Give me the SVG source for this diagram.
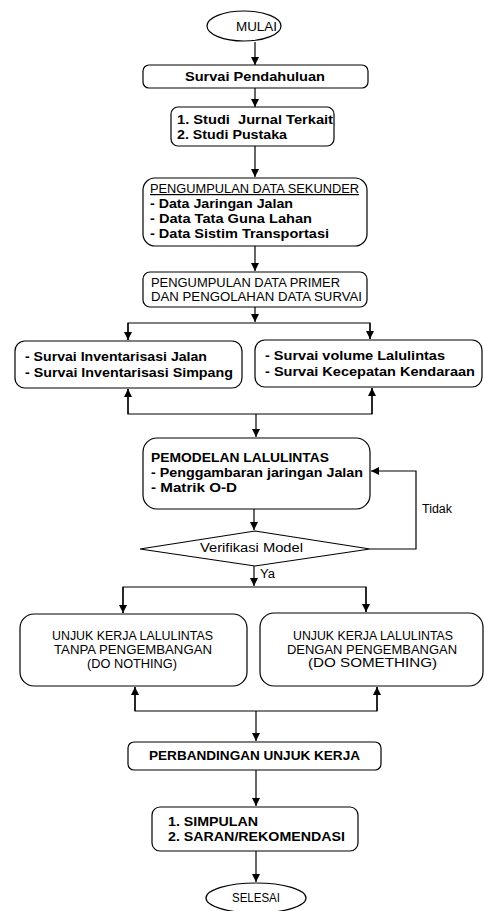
<svg xmlns="http://www.w3.org/2000/svg" width="484" height="911" viewBox="0 0 484 911">
<style>
.node{fill:#fff;stroke:#000;stroke-width:1.2}
.t{font-family:"Liberation Sans",Arial,sans-serif;font-size:12px;fill:#000}
.b{font-weight:bold;font-size:12.5px}
.c{fill:none;stroke:#000;stroke-width:1.2}
</style>
<defs>
<marker id="ah" markerUnits="userSpaceOnUse" markerWidth="9" markerHeight="9" refX="8" refY="4" orient="auto">
<path d="M0,0 L8,4 L0,8 z" fill="#000"/>
</marker>
</defs>
<rect width="484" height="911" fill="#fff"/>
<g id="connectors">
<line class="c" x1="255" y1="42" x2="255" y2="65" marker-end="url(#ah)"/>
<line class="c" x1="255" y1="88" x2="255" y2="107" marker-end="url(#ah)"/>
<line class="c" x1="255" y1="146" x2="255" y2="177" marker-end="url(#ah)"/>
<line class="c" x1="255" y1="246" x2="255" y2="271" marker-end="url(#ah)"/>
<line class="c" x1="255" y1="307" x2="255" y2="322" marker-end="url(#ah)"/>
<polyline class="c" points="128,340 128,323 370,323 370,339"/>
<line class="c" x1="128" y1="323" x2="128" y2="340" marker-end="url(#ah)"/>
<line class="c" x1="370" y1="323" x2="370" y2="339" marker-end="url(#ah)"/>
<polyline class="c" points="128,389 128,414 372,414 372,388"/>
<line class="c" x1="128" y1="414" x2="128" y2="389" marker-end="url(#ah)"/>
<line class="c" x1="372" y1="414" x2="372" y2="388" marker-end="url(#ah)"/>
<line class="c" x1="256" y1="414" x2="256" y2="437" marker-end="url(#ah)"/>
<line class="c" x1="254" y1="509" x2="254" y2="530" marker-end="url(#ah)"/>
<polyline class="c" points="370,549 416,549 416,471 371,471" marker-end="url(#ah)"/>
<line class="c" x1="254" y1="566" x2="254" y2="586" marker-end="url(#ah)"/>
<polyline class="c" points="123,613 123,587 366,587 366,612"/>
<line class="c" x1="123" y1="587" x2="123" y2="613" marker-end="url(#ah)"/>
<line class="c" x1="366" y1="587" x2="366" y2="612" marker-end="url(#ah)"/>
<polyline class="c" points="135,687 135,711 377,711 377,687"/>
<line class="c" x1="135" y1="711" x2="135" y2="687" marker-end="url(#ah)"/>
<line class="c" x1="377" y1="711" x2="377" y2="687" marker-end="url(#ah)"/>
<line class="c" x1="256" y1="711" x2="256" y2="741" marker-end="url(#ah)"/>
<line class="c" x1="256" y1="770" x2="256" y2="806" marker-end="url(#ah)"/>
<line class="c" x1="256" y1="851" x2="256" y2="882" marker-end="url(#ah)"/>
<text class="t" x="422" y="513" textLength="30" lengthAdjust="spacingAndGlyphs">Tidak</text>
<text class="t" x="260" y="578" textLength="15" lengthAdjust="spacingAndGlyphs">Ya</text>
</g>
<g id="mulai">
<ellipse class="node" cx="244" cy="26" rx="37" ry="15"/>
<text class="t" x="236" y="31" textLength="41" lengthAdjust="spacingAndGlyphs">MULAI</text>
</g>
<g id="survai-pendahuluan">
<rect class="node" x="143" y="65" width="225" height="23" rx="6"/>
<text class="t b" x="185" y="81" textLength="140" lengthAdjust="spacingAndGlyphs">Survai Pendahuluan</text>
</g>
<g id="studi">
<rect class="node" x="171" y="107" width="163" height="39" rx="7"/>
<text class="t b" x="177" y="124" textLength="156" lengthAdjust="spacingAndGlyphs" xml:space="preserve">1. Studi  Jurnal Terkait</text>
<text class="t b" x="177" y="139" textLength="110" lengthAdjust="spacingAndGlyphs">2. Studi Pustaka</text>
</g>
<g id="data-sekunder">
<rect class="node" x="143" y="178" width="224" height="68" rx="12"/>
<text class="t" x="150" y="193" textLength="209" lengthAdjust="spacingAndGlyphs" text-decoration="underline">PENGUMPULAN DATA SEKUNDER</text>
<text class="t b" x="150" y="208" textLength="143" lengthAdjust="spacingAndGlyphs">- Data Jaringan Jalan</text>
<text class="t b" x="150" y="223" textLength="162" lengthAdjust="spacingAndGlyphs">- Data Tata Guna Lahan</text>
<text class="t b" x="150" y="238" textLength="179" lengthAdjust="spacingAndGlyphs">- Data Sistim Transportasi</text>
</g>
<g id="data-primer">
<rect class="node" x="143" y="272" width="224" height="35" rx="7"/>
<text class="t" x="151" y="287" textLength="189" lengthAdjust="spacingAndGlyphs">PENGUMPULAN DATA PRIMER</text>
<text class="t" x="151" y="301" textLength="211" lengthAdjust="spacingAndGlyphs">DAN PENGOLAHAN DATA SURVAI</text>
</g>
<g id="survai-inventarisasi">
<rect class="node" x="15" y="341" width="227" height="47" rx="10"/>
<text class="t b" x="25" y="361" textLength="182" lengthAdjust="spacingAndGlyphs">- Survai Inventarisasi Jalan</text>
<text class="t b" x="25" y="377" textLength="208" lengthAdjust="spacingAndGlyphs">- Survai Inventarisasi Simpang</text>
</g>
<g id="survai-volume">
<rect class="node" x="255" y="340" width="227" height="47" rx="10"/>
<text class="t b" x="265" y="360" textLength="180" lengthAdjust="spacingAndGlyphs">- Survai volume Lalulintas</text>
<text class="t b" x="265" y="376" textLength="210" lengthAdjust="spacingAndGlyphs">- Survai Kecepatan Kendaraan</text>
</g>
<g id="pemodelan">
<rect class="node" x="143" y="438" width="227" height="71" rx="14"/>
<text class="t b" x="151" y="462" textLength="178" lengthAdjust="spacingAndGlyphs">PEMODELAN LALULINTAS</text>
<text class="t b" x="151" y="477" textLength="212" lengthAdjust="spacingAndGlyphs">- Penggambaran jaringan Jalan</text>
<text class="t b" x="151" y="492" textLength="86" lengthAdjust="spacingAndGlyphs">- Matrik O-D</text>
</g>
<g id="verifikasi">
<polygon class="node" points="255,531 370,549 255,566 140,549"/>
<text class="t" x="200" y="552" textLength="103" lengthAdjust="spacingAndGlyphs">Verifikasi Model</text>
</g>
<g id="do-nothing">
<rect class="node" x="20" y="614" width="227" height="72" rx="14"/>
<text class="t" x="52" y="640" textLength="161" lengthAdjust="spacingAndGlyphs">UNJUK KERJA LALULINTAS</text>
<text class="t" x="54" y="654" textLength="158" lengthAdjust="spacingAndGlyphs">TANPA PENGEMBANGAN</text>
<text class="t" x="87" y="668" textLength="90" lengthAdjust="spacingAndGlyphs">(DO NOTHING)</text>
</g>
<g id="do-something">
<rect class="node" x="260" y="613" width="223" height="73" rx="14"/>
<text class="t" x="293" y="640" textLength="160" lengthAdjust="spacingAndGlyphs">UNJUK KERJA LALULINTAS</text>
<text class="t" x="287" y="654" textLength="170" lengthAdjust="spacingAndGlyphs">DENGAN PENGEMBANGAN</text>
<text class="t" x="308" y="667" textLength="129" lengthAdjust="spacingAndGlyphs">(DO SOMETHING)</text>
</g>
<g id="perbandingan">
<rect class="node" x="128" y="742" width="253" height="28" rx="6"/>
<text class="t b" x="149" y="760" textLength="211" lengthAdjust="spacingAndGlyphs">PERBANDINGAN UNJUK KERJA</text>
</g>
<g id="simpulan">
<rect class="node" x="152" y="807" width="206" height="44" rx="8"/>
<text class="t b" x="168" y="826" textLength="90" lengthAdjust="spacingAndGlyphs">1. SIMPULAN</text>
<text class="t b" x="168" y="841" textLength="177" lengthAdjust="spacingAndGlyphs">2. SARAN/REKOMENDASI</text>
</g>
<g id="selesai">
<ellipse class="node" cx="256" cy="898" rx="50" ry="15"/>
<text class="t" x="232" y="902" textLength="48" lengthAdjust="spacingAndGlyphs">SELESAI</text>
</g>
</svg>
